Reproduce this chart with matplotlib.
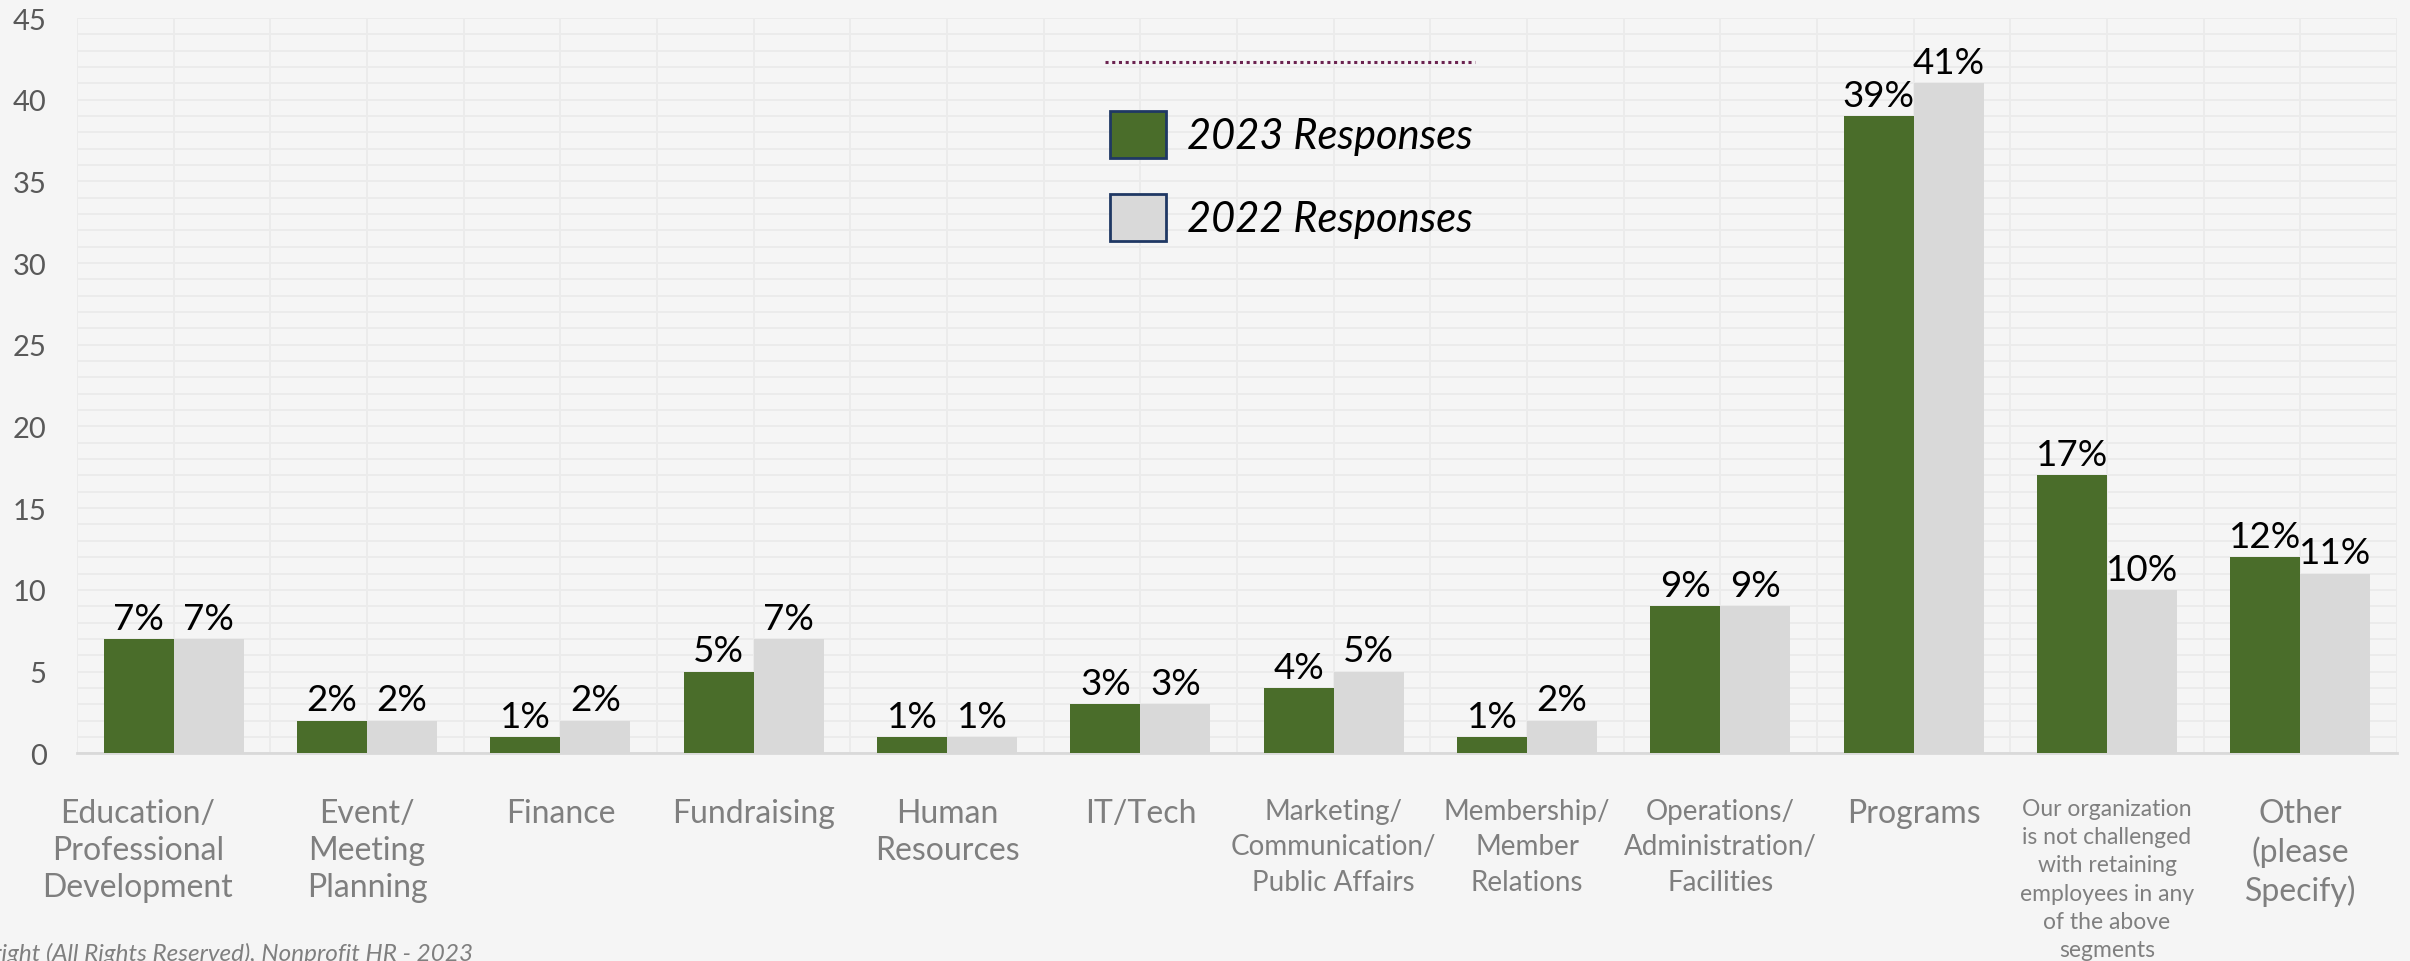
import numpy as np
import matplotlib.pyplot as plt
from matplotlib.patches import Patch
from matplotlib.lines import Line2D
from matplotlib.transforms import ScaledTranslation

# Areas where retaining employees is a challenge, 2023 vs 2022

categorias = ["Education/\nProfessional\nDevelopment", "Event/\nMeeting\nPlanning",
              "Finance", "Fundraising", "Human\nResources", "IT/Tech",
              "Marketing/\nCommunication/\nPublic Affairs", "Membership/\nMember\nRelations",
              "Operations/\nAdministration/\nFacilities", "Programs",
              "Our organization\nis not challenged\nwith retaining\nemployees in any\nof the above\nsegments",
              "Other\n(please\nSpecify)"]
resp_2023 = [7, 2, 1, 5, 1, 3, 4, 1, 9, 39, 17, 12]
resp_2022 = [7, 2, 2, 7, 1, 3, 5, 2, 9, 41, 10, 11]
series = ["2023 Responses", "2022 Responses"]

verde = "#4a6d2a"
gris = "#d9d9d9"
fondo = "#f5f5f5"

plt.rcParams["font.family"] = ["Lato", "DejaVu Sans"]

fig = plt.figure(figsize=(24.1, 9.62), dpi=100, facecolor=fondo)
ax = fig.add_axes([0.032, 0.216, 0.9626, 0.7642], facecolor=fondo)

x = np.arange(len(categorias))
w = 0.362
b1 = ax.bar(x - w / 2, resp_2023, w, color=verde, zorder=3)
b2 = ax.bar(x + w / 2, resp_2022, w, color=gris, zorder=3)

' Etiquetas de porcentaje encima de cada barra '
for barras, vals in [(b1, resp_2023), (b2, resp_2022)]:
    for r, v in zip(barras, vals):
        ax.annotate(f"{v}%", (r.get_x() + r.get_width() / 2, v),
                    xytext=(0, 3), textcoords="offset points",
                    ha="center", va="bottom", fontsize=26.5, color="black")

ax.set_xlim(-0.5, len(categorias) - 0.5)
ax.set_ylim(0, 45)
ax.set_yticks(range(0, 46, 5))
ax.set_yticks(range(0, 46), minor=True)
ax.set_xticks(np.arange(-0.5, len(categorias), 0.5), minor=True)
ax.grid(which="both", color="#ebebeb", lw=1.3, zorder=0)
ax.tick_params(axis="y", which="both", length=0, pad=22, labelsize=21, labelcolor="#595959")
ax.tick_params(axis="x", which="both", length=0, pad=32)

ax.set_xticks(x)
ax.set_xticklabels(categorias, color="#7f7f7f", fontsize=23, va="top", linespacing=1.3)
for lbl in ax.get_xticklabels():
    t = lbl.get_text()
    if t.startswith("Our"):
        lbl.set_fontsize(16.5)
        lbl.set_linespacing(1.43)
    elif t.startswith(("Marketing", "Membership", "Operations")):
        lbl.set_fontsize(20)
        lbl.set_linespacing(1.45)
    elif t.startswith("Education"):
        # esta etiqueta va corrida a la izquierda
        lbl.set_transform(lbl.get_transform() + ScaledTranslation(-0.36, 0, fig.dpi_scale_trans))

for s in ["top", "left", "right"]:
    ax.spines[s].set_visible(False)
ax.spines["bottom"].set_color("#d9d9d9")
ax.spines["bottom"].set_linewidth(2)

' Leyenda con cuadros de borde azul oscuro '
handles = [Patch(facecolor=verde, edgecolor="#1f3864", lw=2),
           Patch(facecolor=gris, edgecolor="#1f3864", lw=2)]
leg = fig.legend(handles, series, loc="upper left",
                 bbox_to_anchor=(1110 / 2410, 1 - 112 / 962),
                 frameon=False, prop={"style": "italic", "size": 30},
                 handlelength=1.35, handleheight=1.35, handletextpad=0.5,
                 labelspacing=0.87, borderpad=0, borderaxespad=0)

fig.add_artist(Line2D([1105 / 2410, 1475 / 2410], [1 - 63 / 962, 1 - 63 / 962],
                      transform=fig.transFigure, color="#6b2350", lw=2.2, ls=(0, (1, 1.2))))

fig.text(473 / 2410, 1 - 961 / 962, "Copyright (All Rights Reserved), Nonprofit HR - 2023",
         ha="right", va="baseline", fontsize=17.5, style="italic", color="#7f7f7f")

plt.savefig("out.png", dpi=100, facecolor=fondo)
